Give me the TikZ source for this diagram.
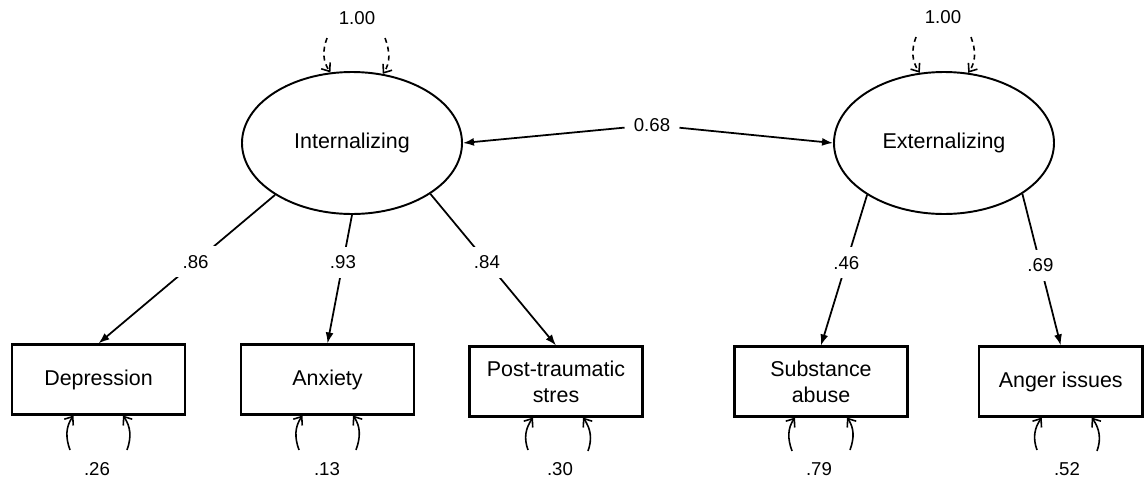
\documentclass[tikz,border=0pt]{standalone}
\usepackage{fontspec}
\setmainfont{Liberation Sans}
\usetikzlibrary{arrows.meta,shapes.geometric}
\newcommand{\nodefont}{\fontsize{12.2}{14.7}\selectfont}
\newcommand{\numfont}{\fontsize{10.6}{12.7}\selectfont}
\tikzset{
  >={Latex[length=2.2mm,width=1.6mm]},
  latent/.style={draw,ellipse,line width=1.1pt,minimum width=44mm,
    minimum height=28.4mm,inner sep=0pt,font=\nodefont},
  indicator/.style={draw,line width=1.2pt,minimum width=34.6mm,
    minimum height=14mm,inner sep=1mm,align=center,font=\nodefont},
  loading/.style={->,line width=1pt},
  coef/.style={fill=white,inner sep=1.8mm,font=\numfont},
  varLabel/.style={inner sep=0.5mm,font=\numfont},
  residArrow/.style={-{Straight Barb[length=1.4mm,width=2.2mm]},line width=0.9pt},
  varArrow/.style={residArrow,dash pattern=on 1mm off 0.8mm},
}

\begin{document}
\begin{tikzpicture}[x=0.2mm,y=0.2mm]
\useasboundingbox (0,0) rectangle (1144,482);
% latent factors
\node[latent] (int) at (352,339) {Internalizing};
\node[latent] (ext) at (944,339) {Externalizing};
% observed indicators
\node[indicator] (dep) at (98.5,102.5) {Depression};
\node[indicator] (anx) at (327.5,102.5) {Anxiety};
\node[indicator] (pts) at (556,100.5) {Post-traumatic\\stres};
\node[indicator] (sub) at (821,100.5) {Substance\\abuse};
\node[indicator,minimum width=32.7mm] (ang) at (1060.75,100.5) {Anger issues};
% factor covariance
\node[coef] (cov) at (652,357) {0.68};
\draw[loading] (cov) -- (int.east);
\draw[loading] (cov) -- (ext.west);
% loadings
\draw[loading] (int.-146.6) -- node[coef,pos=0.45] (lDep) {.86} (dep.north);
\draw[loading] (int.south) -- node[coef,pos=0.37] (lAnx) {.93} (anx.north);
\draw[loading] (int.-33.4) -- node[coef,pos=0.45] (lPts) {.84} (pts.north);
\draw[loading] (ext.-146.6) -- node[coef,pos=0.45] (lSub) {.46} (sub.north);
\draw[loading] (ext.-33.4) -- node[coef,pos=0.47] (lAng) {.69} (ang.north);
% factor variances
\coordinate (intVL) at (327,444);
\coordinate (intVR) at (385,444);
\coordinate (extVL) at (916,445);
\coordinate (extVR) at (971,445);
\node[varLabel] (intVar) at (357,464) {1.00};
\node[varLabel] (extVar) at (943,465) {1.00};
\draw[varArrow] (intVL) to[out=250,in=125] (int.107);
\draw[varArrow] (intVR) to[out=290,in=55] (int.66);
\draw[varArrow] (extVL) to[out=250,in=125] (ext.109);
\draw[varArrow] (extVR) to[out=290,in=55] (ext.71);
% residual variances
\coordinate (depRL) at (70,32);
\coordinate (depRR) at (127,32);
\coordinate (anxRL) at (299,32);
\coordinate (anxRR) at (356,32);
\coordinate (ptsRL) at (528,32);
\coordinate (ptsRR) at (588,31);
\coordinate (subRL) at (792,31);
\coordinate (subRR) at (850,32);
\coordinate (angRL) at (1037,32);
\coordinate (angRR) at (1097,31);
\draw[residArrow] (depRL) to[out=110,in=235] ([xshift=-5mm]dep.south);
\draw[residArrow] (depRR) to[out=70,in=305] ([xshift=4.9mm]dep.south);
\draw[residArrow] (anxRL) to[out=110,in=235] ([xshift=-5mm]anx.south);
\draw[residArrow] (anxRR) to[out=70,in=305] ([xshift=5.1mm]anx.south);
\draw[residArrow] (ptsRL) to[out=110,in=235] ([xshift=-4.6mm]pts.south);
\draw[residArrow] (ptsRR) to[out=70,in=305] ([xshift=5.4mm]pts.south);
\draw[residArrow] (subRL) to[out=110,in=235] ([xshift=-5.2mm]sub.south);
\draw[residArrow] (subRR) to[out=70,in=305] ([xshift=5.2mm]sub.south);
\draw[residArrow] (angRL) to[out=110,in=235] ([xshift=-3.8mm]ang.south);
\draw[residArrow] (angRR) to[out=70,in=305] ([xshift=6.2mm]ang.south);
\node[varLabel] (depVar) at (97,13) {.26};
\node[varLabel] (anxVar) at (327,13) {.13};
\node[varLabel] (ptsVar) at (560,13) {.30};
\node[varLabel] (subVar) at (819,13) {.79};
\node[varLabel] (angVar) at (1067,13) {.52};
\end{tikzpicture}
\end{document}
